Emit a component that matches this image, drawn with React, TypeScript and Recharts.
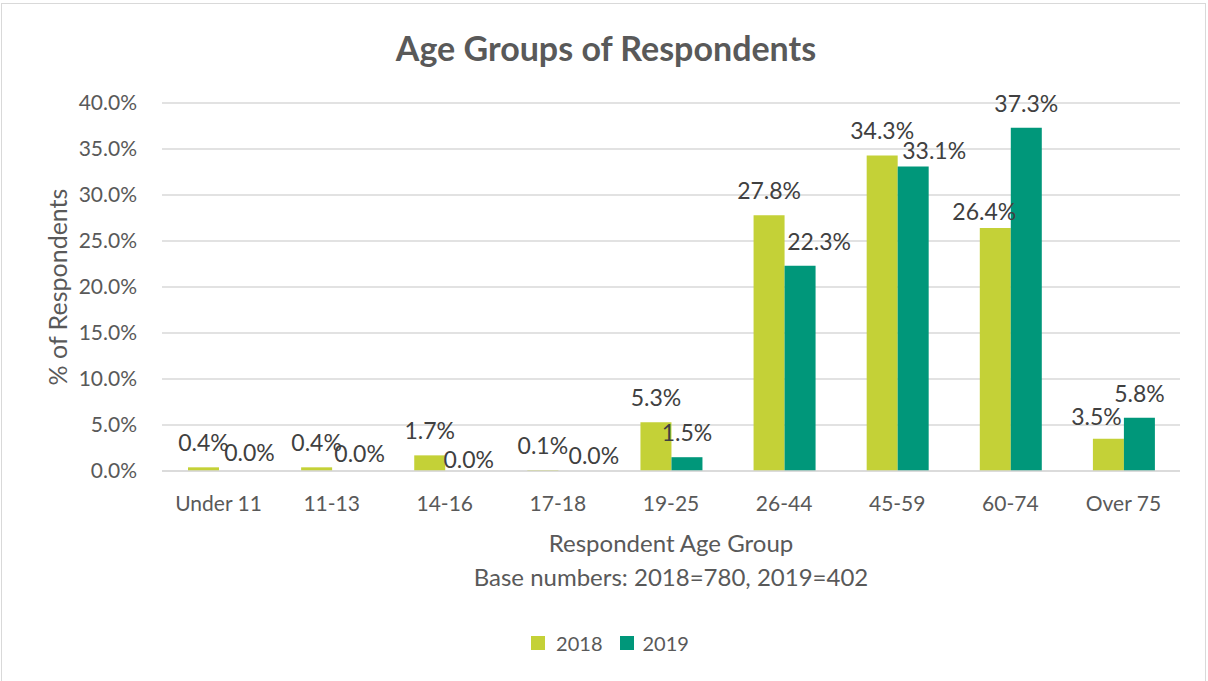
import React from 'react'
import {
  Bar,
  BarChart,
  CartesianGrid,
  LabelList,
  XAxis,
  YAxis,
} from 'recharts'

// Age distribution of respondents, 2018 vs 2019 survey waves.

const ageGroups = ['Under 11', '11-13', '14-16', '17-18', '19-25', '26-44', '45-59', '60-74', 'Over 75']
const share2018 = [0.4, 0.4, 1.7, 0.1, 5.3, 27.8, 34.3, 26.4, 3.5]
const share2019 = [0.0, 0.0, 0.0, 0.0, 1.5, 22.3, 33.1, 37.3, 5.8]
const yTicks = [0, 5, 10, 15, 20, 25, 30, 35, 40]

// small label nudges so neighbouring data labels don't collide (px)
const nudgeX2018 = [0, 0, 0, 0, 0, 0, 0, -11, -12]
const nudgeY2018 = [0, 0, 0, 0, 0, 0, 0, 8, 2]
const nudgeX2019 = [15, 12, 8, 20, 0, 19, 21, 0, 0]
const nudgeY2019 = [6, 7, 13, 9, 0, 0, 9, 0, 0]

const COLOR_2018 = '#c4d137'
const COLOR_2019 = '#00977a'
const TEXT = '#595959'
const FONT = 'Lato, "Open Sans", sans-serif'

const data = ageGroups.map((group, i) => ({
  group,
  y2018: share2018[i],
  y2019: share2019[i],
}))

const pct = (v: number) => `${Number(v).toFixed(1)}%`

function makeLabel(dxs: number[], dys: number[]) {
  return (props: any) => {
    const { x, y, width, height, value, index } = props
    if (value == null) return null
    // zero bars get a hairline minPointSize; anchor their label on the baseline
    const top = Number(value) === 0 ? Number(y) + Number(height) : Number(y)
    const cx = Number(x) + Number(width) / 2 + (dxs[index] ?? 0)
    const cy = top - 25 + (dys[index] ?? 0)
    return (
      <text
        x={cx}
        y={cy}
        textAnchor="middle"
        dominantBaseline="central"
        fontSize={23}
        fontFamily={FONT}
        fill="#404040"
      >
        {pct(value)}
      </text>
    )
  }
}

export default function App() {
  return (
    <div
      style={{
        position: 'absolute',
        left: 0,
        top: 0,
        width: 1208,
        height: 681,
        overflow: 'hidden',
        background: '#fff',
        fontFamily: FONT,
        color: TEXT,
      }}
    >
      <div
        style={{
          position: 'absolute',
          left: 1,
          top: 3,
          width: 1205,
          height: 700,
          border: '1px solid #d9d9d9',
          boxSizing: 'border-box',
        }}
      />
      <div
        style={{
          position: 'absolute',
          top: 27,
          left: 0,
          width: 1212,
          textAlign: 'center',
          fontSize: 34,
          fontWeight: 700,
        }}
      >
        Age Groups of Respondents
      </div>
      <div
        style={{
          position: 'absolute',
          left: 57,
          top: 287,
          transform: 'translate(-50%, -50%) rotate(-90deg)',
          whiteSpace: 'nowrap',
          fontSize: 25,
        }}
      >
        % of Respondents
      </div>
      <div style={{ position: 'absolute', top: 528, left: 162, width: 1018, textAlign: 'center', fontSize: 24 }}>
        Respondent Age Group
      </div>
      <div style={{ position: 'absolute', top: 562, left: 162, width: 1018, textAlign: 'center', fontSize: 24 }}>
        Base numbers: 2018=780, 2019=402
      </div>
      <div
        style={{
          position: 'absolute',
          top: 631,
          left: 0,
          width: 1208,
          display: 'flex',
          justifyContent: 'center',
          gap: 17,
          fontSize: 20,
        }}
      >
        <span style={{ display: 'inline-flex', alignItems: 'center', gap: 11, marginLeft: 12 }}>
          <span style={{ width: 14, height: 14, background: COLOR_2018, display: 'inline-block' }} />
          2018
        </span>
        <span style={{ display: 'inline-flex', alignItems: 'center', gap: 9 }}>
          <span style={{ width: 14, height: 14, background: COLOR_2019, display: 'inline-block' }} />
          2019
        </span>
      </div>
      <div style={{ position: 'absolute', left: 0, top: 0 }}>
        <BarChart
          width={1208}
          height={681}
          data={data}
          margin={{ top: 103, right: 28, bottom: 170, left: 0 }}
          barGap={0}
          barCategoryGap="23%"
        >
          <CartesianGrid vertical={false} stroke="#d9d9d9" strokeWidth={1.5} />
          <XAxis
            dataKey="group"
            axisLine={{ stroke: '#d9d9d9', strokeWidth: 1.5 }}
            tickLine={false}
            tickMargin={19}
            tick={{ fontSize: 21, fill: TEXT, fontFamily: FONT }}
            interval={0}
            height={40}
          />
          <YAxis
            width={162}
            domain={[0, 40]}
            ticks={yTicks}
            axisLine={false}
            tickLine={false}
            tickSize={0}
            tickMargin={25}
            tickFormatter={pct}
            tick={{ fontSize: 21, fill: TEXT, fontFamily: FONT }}
          />
          <Bar dataKey="y2018" fill={COLOR_2018} minPointSize={0.01} isAnimationActive={false}>
            <LabelList dataKey="y2018" content={makeLabel(nudgeX2018, nudgeY2018)} />
          </Bar>
          <Bar dataKey="y2019" fill={COLOR_2019} minPointSize={0.01} isAnimationActive={false}>
            <LabelList dataKey="y2019" content={makeLabel(nudgeX2019, nudgeY2019)} />
          </Bar>
        </BarChart>
      </div>
    </div>
  )
}
